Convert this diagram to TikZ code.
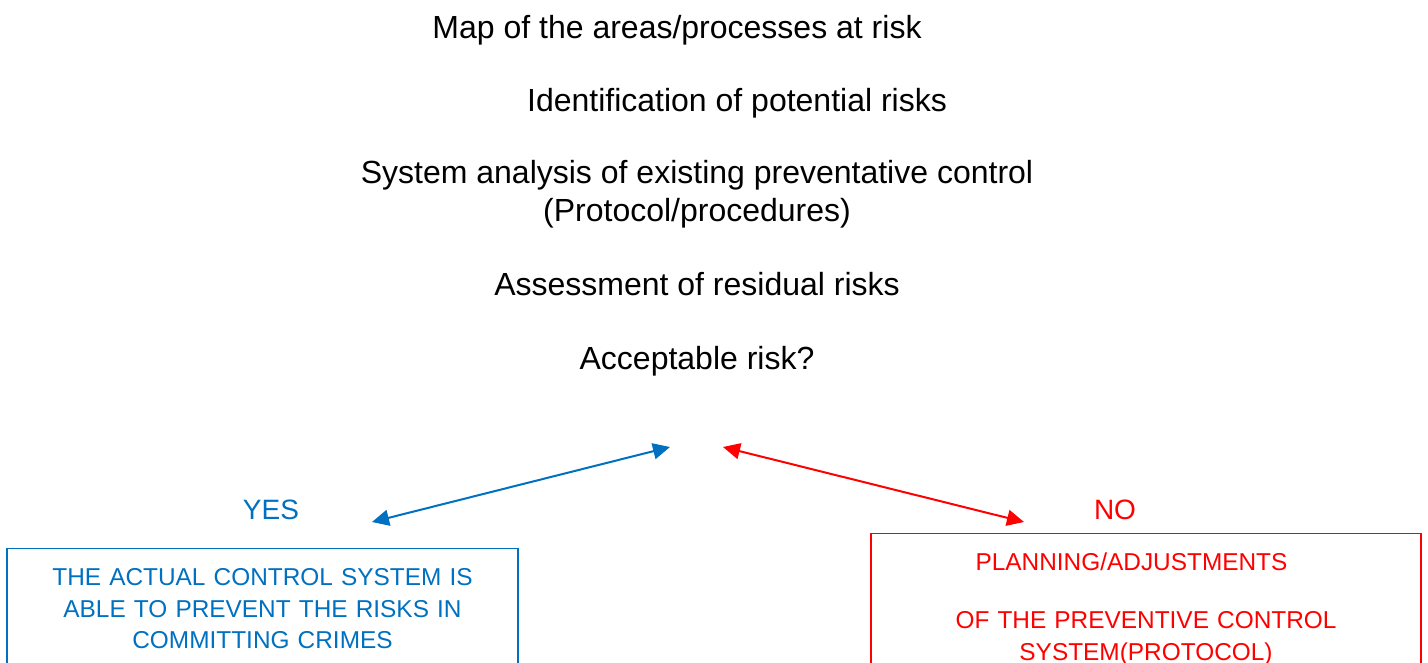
\documentclass[tikz,border=0pt]{standalone}
\usepackage{fontspec}
\setmainfont{Liberation Sans}
\usetikzlibrary{arrows.meta}
\definecolor{yesblue}{RGB}{0,112,192}
\definecolor{nored}{RGB}{255,0,0}
\begin{document}
\begin{tikzpicture}[x=1pt, y=-1pt]
      \tikzstyle{snode} = [inner sep = 0pt, align=center, font=\fontsize{32}{38}\selectfont]
      \tikzstyle{anode} = [inner sep = 0pt, font=\fontsize{28}{34}\selectfont]
      \tikzstyle{bnode} = [rectangle, line width=1.2pt, draw, anchor=north, align=center,
                           inner xsep=0pt, inner ysep=20pt, font=\fontsize{24.4}{31.5}\selectfont]
      \tikzstyle{darrow} = [line width=2pt, {Triangle[length=17pt,width=16pt]}-{Triangle[length=17pt,width=16pt]}]

      \useasboundingbox (0,0) rectangle (1428,662);
      \clip (0,0) rectangle (1428,662);

      %%%%%%%%%%%%%%%%%%%%%%%%%%%%%%
      %% The steps of the analysis
      %%%%%%%%%%%%%%%%%%%%%%%%%%%%%%
      \node[snode, anchor=base] (map) at (677,38) {Map of the areas/processes at risk};
      \node[snode, anchor=base] (ident) at (737,111) {Identification of potential risks};
      \node[snode] (sys) at (697,194) {System analysis of existing preventative control\\(Protocol/procedures)};
      \node[snode, anchor=base] (assess) at (697,295) {Assessment of residual risks};
      \node[snode, anchor=base] (accept) at (697,369) {Acceptable risk?};

      %%%%%%%%%%%%%%%%%%%%%%%%%%%%%%
      %% The two answers
      %%%%%%%%%%%%%%%%%%%%%%%%%%%%%%
      \node[anode, anchor=base, yesblue] (yes) at (271,519) {YES};
      \node[anode, anchor=base, nored] (no) at (1115,519) {NO};

      \coordinate (ytip) at (670,447);
      \coordinate (yend) at (372,522);
      \coordinate (ntip) at (723,447);
      \coordinate (nend) at (1024,522);

      \draw[darrow, yesblue] (yend) -- (ytip);
      \draw[darrow, nored] (ntip) -- (nend);

      \node[bnode, yesblue, text width=511pt] (ybox) at (262.5,548)
        {THE ACTUAL CONTROL SYSTEM IS\\ABLE TO PREVENT THE RISKS IN\\COMMITTING CRIMES};
      \node[bnode, nored, text width=550pt, inner ysep=19pt] (nbox) at (1146,533)
        {PLANNING/ADJUSTMENTS\kern29pt\\[27pt]OF THE PREVENTIVE CONTROL\\SYSTEM(PROTOCOL)};
\end{tikzpicture}
\end{document}
